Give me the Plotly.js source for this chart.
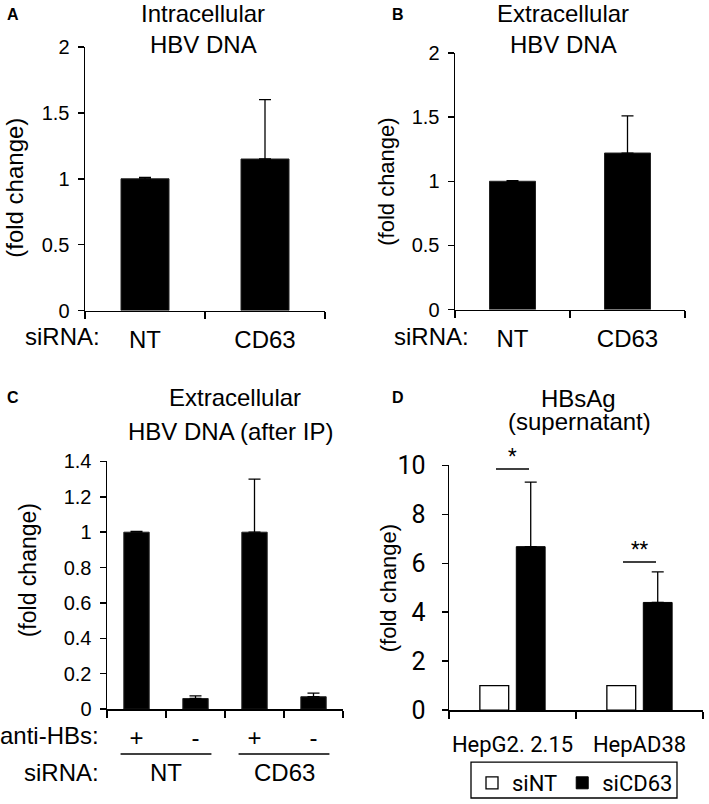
<!DOCTYPE html>
<html><head><meta charset="utf-8">
<script src="https://cdn.plot.ly/plotly-3.0.1.min.js"></script>
<style>body{margin:0;background:#fff}#chart{width:709px;height:804px}</style>
</head><body><div id="chart"></div>
<script>
// ---- Panel A: Intracellular HBV DNA ----
const aCats = ["NT", "CD63"];
const aVals = [1.0, 1.15];
const aErr = [0.01, 0.45];
// ---- Panel B: Extracellular HBV DNA ----
const bCats = ["NT", "CD63"];
const bVals = [1.0, 1.22];
const bErr = [0.005, 0.29];
// ---- Panel C: Extracellular HBV DNA (after IP) ----
const cCats = ["NT +", "NT -", "CD63 +", "CD63 -"];
const cAntiHBs = ["+", "-", "+", "-"];
const cGroups = ["NT", "CD63"];
const cVals = [1.0, 0.06, 1.0, 0.07];
const cErr = [0.005, 0.015, 0.30, 0.02];
// ---- Panel D: HBsAg (supernatant) ----
const dCats = ["HepG2. 2.15", "HepAD38"];
const dSiNT = [1.0, 1.0];
const dSiCD63 = [6.68, 4.40];
const dSiCD63Err = [2.64, 1.25];
const dSig = ["*", "**"];
const dSigY = [9.85, 6.05];

const W = 709, H = 804;
const px = x => x / W;
const py = y => 1 - y / H;
const ARIAL = "Liberation Sans, Arial, sans-serif";
const CALI = "Roboto, sans-serif";
const zeros = n => new Array(n).fill(0);

function errY(arr) {
  return {type: "data", symmetric: false, array: arr, arrayminus: zeros(arr.length),
          color: "black", thickness: 1.3, width: 6};
}

const traces = [
  {type: "bar", x: aCats, y: aVals, xaxis: "x", yaxis: "y", width: 0.4,
   marker: {color: "black", line: {color: "#222", width: 1}}, error_y: errY(aErr), showlegend: false},
  {type: "bar", x: bCats, y: bVals, xaxis: "x2", yaxis: "y2", width: 0.4,
   marker: {color: "black", line: {color: "#222", width: 1}}, error_y: errY(bErr), showlegend: false},
  {type: "bar", x: cCats, y: cVals, xaxis: "x3", yaxis: "y3", width: 0.43,
   marker: {color: "black", line: {color: "#222", width: 1}}, error_y: errY(cErr), showlegend: false},
  {type: "bar", name: "siNT", x: dCats, y: dSiNT, xaxis: "x4", yaxis: "y4", width: 0.227, offset: -0.257,
   marker: {color: "white", line: {color: "black", width: 1.3}}, showlegend: true},
  {type: "bar", name: "siCD63", x: dCats, y: dSiCD63, xaxis: "x4", yaxis: "y4", width: 0.227, offset: 0.03,
   marker: {color: "black", line: {color: "black", width: 1}}, error_y: errY(dSiCD63Err), showlegend: true}
];

function xax(dom, anchor, n, fontFam, fontSize, standoff, extra) {
  return Object.assign({domain: dom, anchor: anchor, type: "category", range: [-0.5, n - 0.5],
    showline: true, linecolor: "black", linewidth: 1.5, ticks: "outside", tickson: "boundaries",
    ticklen: 7, tickwidth: 1.5, tickcolor: "black", showgrid: false, zeroline: false,
    tickangle: 0, automargin: false,
    tickfont: {family: fontFam, size: fontSize, color: "black"}, ticklabelstandoff: standoff,
    fixedrange: true}, extra || {});
}
function yax(dom, anchor, range, dtick, fontFam, fontSize, standoff) {
  return {domain: dom, anchor: anchor, range: range, dtick: dtick, tick0: 0,
    showline: true, linecolor: "black", linewidth: 1.5, ticks: "outside", ticklen: 6,
    tickwidth: 1.5, tickcolor: "black", showgrid: false, zeroline: false, automargin: false,
    tickfont: {family: fontFam, size: fontSize, color: "black"}, ticklabelstandoff: standoff};
}

const ann = [];
const shapes = [];
function txt(x, y, text, size, fam, opts) {
  ann.push(Object.assign({xref: "paper", yref: "paper", x: px(x), y: py(y), text: text,
    showarrow: false, font: {family: fam, size: size, color: "black"},
    xanchor: "center", yanchor: "middle"}, opts || {}));
}
// panel letters
txt(13, 15, "<b>A</b>", 16, ARIAL);
txt(398, 15, "<b>B</b>", 16, ARIAL);
txt(13, 398, "<b>C</b>", 16, ARIAL);
txt(398, 398, "<b>D</b>", 16, ARIAL);
// titles
txt(203, 14, "Intracellular", 24, ARIAL);
txt(203, 45, "HBV DNA", 24, ARIAL);
txt(563, 14, "Extracellular", 24, ARIAL);
txt(563, 45, "HBV DNA", 24, ARIAL);
txt(235, 398, "Extracellular", 24, ARIAL);
txt(230, 432, "HBV DNA (after IP)", 24, ARIAL);
txt(578, 399, "HBsAg", 24, ARIAL);
txt(579, 422, "(supernatant)", 24, ARIAL);
// y titles
txt(15, 188, "(fold change)", 24, ARIAL, {textangle: -90});
txt(387, 182, "(fold change)", 22, ARIAL, {textangle: -90});
txt(28, 571, "(fold change)", 23, ARIAL, {textangle: -90});
txt(388, 589, "(fold change)", 22, ARIAL, {textangle: -90});
// row labels
txt(102, 337, "siRNA:", 24, ARIAL, {xanchor: "right"});
txt(471, 337, "siRNA:", 24, ARIAL, {xanchor: "right"});
txt(101, 736, "anti-HBs:", 24, ARIAL, {xanchor: "right"});
txt(101, 773, "siRNA:", 24, ARIAL, {xanchor: "right"});
// panel C group labels + underlines (data coords on x3)
cGroups.forEach((g, k) => {
  const c = 2 * k + 0.5;
  ann.push({xref: "x3", yref: "paper", x: c, y: py(773), text: g, showarrow: false,
    font: {family: ARIAL, size: 24, color: "black"}, xanchor: "center", yanchor: "middle"});
  shapes.push({type: "line", xref: "x3", yref: "paper", x0: c - 0.77, x1: c + 0.77,
    y0: py(755), y1: py(755), line: {color: "black", width: 1.5}});
});
// panel D significance marks
dCats.forEach((cat, k) => {
  shapes.push({type: "line", xref: "x4", yref: "y4", x0: k - 0.13, x1: k + 0.13,
    y0: dSigY[k], y1: dSigY[k], line: {color: "black", width: 1.5}});
  ann.push({xref: "x4", yref: "y4", x: k, y: dSigY[k], text: dSig[k], showarrow: false,
    font: {family: CALI, size: 20, color: "black"}, xanchor: "center", yanchor: "bottom", yshift: -1});
});
// legend frame
shapes.push({type: "rect", xref: "paper", yref: "paper", x0: px(471), x1: px(677),
  y0: py(799), y1: py(763), line: {color: "black", width: 1.3}, fillcolor: "rgba(0,0,0,0)"});

const layout = {
  width: W, height: H, margin: {l: 0, r: 0, t: 0, b: 0},
  paper_bgcolor: "white", plot_bgcolor: "white", barmode: "overlay",
  showlegend: true,
  xaxis: xax([px(85), px(325)], "y", aCats.length, ARIAL, 24, 7),
  yaxis: yax([py(311), py(47)], "x", [0, 2], 0.5, ARIAL, 20, 4),
  xaxis2: xax([px(455), px(685)], "y2", bCats.length, ARIAL, 24, 7),
  yaxis2: yax([py(310), py(53)], "x2", [0, 2], 0.5, ARIAL, 20, 4),
  xaxis3: xax([px(107), px(343)], "y3", cCats.length, ARIAL, 24, 7,
    {tickmode: "array", tickvals: cCats, ticktext: cAntiHBs}),
  yaxis3: yax([py(710), py(462)], "x3", [0, 1.4], 0.2, ARIAL, 20, 4),
  xaxis4: xax([px(449), px(703)], "y4", dCats.length, CALI, 22, 14),
  yaxis4: yax([py(711), py(466)], "x4", [0, 10], 2, CALI, 25, 11),
  legend: {orientation: "h", x: px(472), xanchor: "left", y: py(763), yanchor: "top",
    borderwidth: 0, bgcolor: "rgba(0,0,0,0)",
    font: {family: CALI, size: 22, color: "black"}, traceorder: "normal"},
  annotations: ann, shapes: shapes
};

Plotly.newPlot("chart", traces, layout, {staticPlot: true, displayModeBar: false});
</script></body></html>
